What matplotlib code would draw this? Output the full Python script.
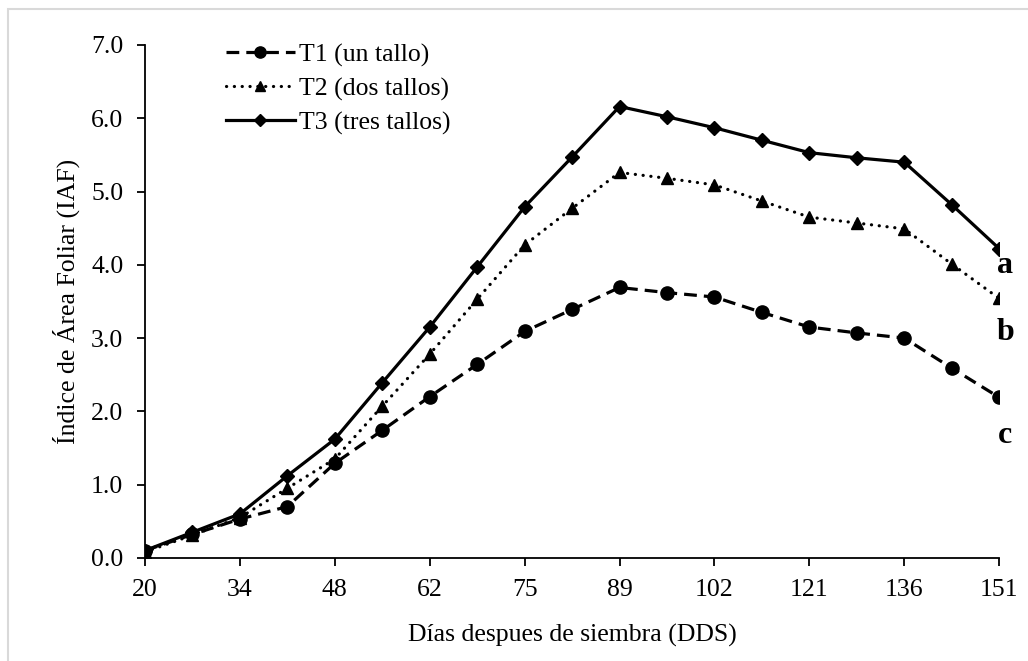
import matplotlib.pyplot as plt
from matplotlib.patches import Rectangle
import numpy as np

# days after sowing (only every other one gets a tick label)
dias = [20, 27, 34, 41, 48, 55, 62, 68, 75, 82, 89, 96, 102, 110, 121, 128, 136, 144, 151]
tick_labels = ['20', '34', '48', '62', '75', '89', '102', '121', '136', '151']

t1_un_tallo = [0.10, 0.32, 0.53, 0.70, 1.29, 1.74, 2.20, 2.64, 3.09, 3.39, 3.69,
               3.62, 3.56, 3.35, 3.15, 3.07, 3.00, 2.59, 2.19]
t2_dos_tallos = [0.08, 0.31, 0.55, 0.95, 1.35, 2.07, 2.78, 3.53, 4.27, 4.77, 5.26,
                 5.18, 5.09, 4.87, 4.65, 4.57, 4.49, 4.01, 3.54]
t3_tres_tallos = [0.10, 0.35, 0.60, 1.12, 1.62, 2.39, 3.15, 3.97, 4.79, 5.47, 6.16,
                  6.02, 5.87, 5.70, 5.53, 5.46, 5.40, 4.82, 4.22]

# significance letters at the end of each curve (baseline height)
letras = ['a', 'b', 'c']
letras_y = [3.89, 2.97, 1.57]

plt.rcParams['font.family'] = ['Liberation Serif', 'DejaVu Serif']

fig = plt.figure(figsize=(10.28, 6.61), dpi=100)
ax = fig.add_axes([0.141, 0.156, 0.831, 0.776])

pos = np.arange(len(dias))
lw = 2.3

ax.plot(pos, t1_un_tallo, color='black', lw=lw, dashes=(4.0, 2.2),
        marker='o', markersize=9.5, label='T1 (un tallo)')
ax.plot(pos, t2_dos_tallos, color='black', lw=lw, dashes=(0.05, 2.4),
        dash_capstyle='round', marker='^', markersize=9, label='T2 (dos tallos)')
ax.plot(pos, t3_tres_tallos, color='black', lw=lw, ls='-',
        marker='D', markersize=7.5, label='T3 (tres tallos)')

for letra, y in zip(letras, letras_y):
    ax.text(len(dias) - 1 + 0.13, y, letra, ha='center', va='baseline',
            fontsize=23, fontweight='bold', clip_on=False)

ax.set_xlim(0, len(dias) - 1)
ax.set_ylim(0, 7)
ax.set_xticks(pos[::2])
ax.set_xticklabels(tick_labels)
ax.set_yticks(np.arange(0, 7.01, 1.0))
ax.set_yticklabels(['%.1f' % v for v in np.arange(0, 7.01, 1.0)])
ax.tick_params(labelsize=18.5, length=5.5, width=1.3, color='black')
ax.tick_params(axis='x', pad=10)
ax.tick_params(axis='y', pad=10)

ax.spines['top'].set_visible(False)
ax.spines['right'].set_visible(False)
ax.spines['left'].set_linewidth(1.3)
ax.spines['bottom'].set_linewidth(1.3)

ax.set_xlabel('Días despues de siembra (DDS)', fontsize=18.5, labelpad=16)
ax.set_ylabel('Índice de Área Foliar (IAF)', fontsize=18.5, labelpad=8)

ax.legend(loc='upper left', bbox_to_anchor=(0.202, 0.962), bbox_transform=fig.transFigure,
          frameon=False, fontsize=18.5, handlelength=2.7, handletextpad=0.15,
          labelspacing=0.42, borderpad=0.2, markerscale=0.85)

# light grey chart frame
fig.patches.append(Rectangle((0.008, -0.1), 1.2, 1.086, transform=fig.transFigure,
                             fill=False, edgecolor='#d9d9d9', lw=1.5))

plt.savefig('out.png', dpi=100)
